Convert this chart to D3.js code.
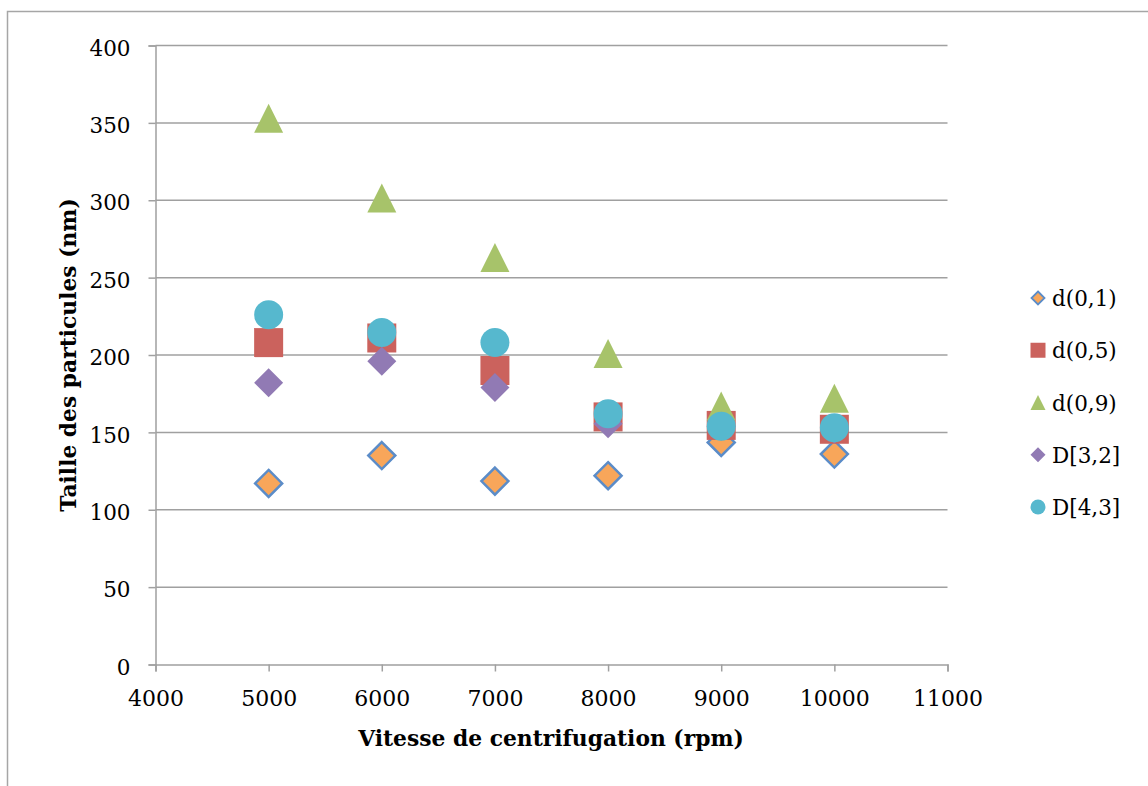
<!DOCTYPE html>
<html><head><meta charset="utf-8">
<script src="https://cdn.jsdelivr.net/npm/d3@7"></script>
<style>body{margin:0;background:#fff}</style>
</head><body>
<svg id="c" width="1148" height="786"></svg>
<script>
const speeds = [5000, 6000, 7000, 8000, 9000, 10000];
const d01 = [117, 135, 118.5, 122, 143.5, 136];
const d05 = [208, 211, 190, 160, 154.5, 152];
const d09 = [353, 301.5, 263, 201, 167, 172];
const D32 = [182, 196, 179, 155.5, 154, 152];
const D43 = [226, 214.5, 208, 162, 154, 153];
const xTicks = [4000, 5000, 6000, 7000, 8000, 9000, 10000, 11000];
const yTicks = [0, 50, 100, 150, 200, 250, 300, 350, 400];
const seriesNames = ["d(0,1)", "d(0,5)", "d(0,9)", "D[3,2]", "D[4,3]"];

const series = [
  {name: seriesNames[0], values: d01, shape: "diamond", fill: "#F8A65A", stroke: "#5B8CC8"},
  {name: seriesNames[1], values: d05, shape: "square", fill: "#CB625D", stroke: "none"},
  {name: seriesNames[2], values: d09, shape: "triangle", fill: "#A7C36A", stroke: "none"},
  {name: seriesNames[3], values: D32, shape: "diamond", fill: "#917AB4", stroke: "none"},
  {name: seriesNames[4], values: D43, shape: "circle", fill: "#56B8CE", stroke: "none"}
];

const svg = d3.select("#c");
const font = "'DejaVu Serif', serif";

// outer frame
svg.append("rect").attr("x", 7.5).attr("y", 11.5).attr("width", 1200).attr("height", 900)
  .attr("fill", "none").attr("stroke", "#A6A6A6").attr("stroke-width", 1.5);

const x = d3.scaleLinear().domain([4000, 11000]).range([155.5, 947.5]);
const y = d3.scaleLinear().domain([0, 400]).range([664.5, 45.5]);

// gridlines
svg.append("g").selectAll("line").data(yTicks.filter(v => v > 0)).join("line")
  .attr("x1", x(4000)).attr("x2", x(11000))
  .attr("y1", d => y(d)).attr("y2", d => y(d))
  .attr("stroke", "#A0A0A0").attr("stroke-width", 1.5);

// y axis
const ya = svg.append("g").attr("transform", `translate(${x(4000)},0)`)
  .call(d3.axisLeft(y).tickValues(yTicks).tickSize(7).tickPadding(18).tickFormat(d3.format("d")));
ya.select(".domain").attr("stroke", "#A0A0A0").attr("stroke-width", 1.5);
ya.selectAll(".tick line").attr("stroke", "#A0A0A0").attr("stroke-width", 1.5);
ya.selectAll("text").attr("font-family", font).attr("font-size", 21.5).attr("fill", "#000").attr("dy", "0.45em");

// x axis
const xa = svg.append("g").attr("transform", `translate(0,${y(0)})`)
  .call(d3.axisBottom(x).tickValues(xTicks).tickSize(7).tickPadding(19).tickFormat(d3.format("d")));
xa.select(".domain").attr("stroke", "#A0A0A0").attr("stroke-width", 1.5);
xa.selectAll(".tick line").attr("stroke", "#A0A0A0").attr("stroke-width", 1.5);
xa.selectAll("text").attr("font-family", font).attr("font-size", 22).attr("fill", "#000");

// axis titles
svg.append("text").attr("x", 551).attr("y", 746).attr("text-anchor", "middle")
  .attr("font-family", font).attr("font-weight", "bold").attr("font-size", 21.8)
  .text("Vitesse de centrifugation (rpm)");
svg.append("text").attr("transform", "translate(76,355) rotate(-90)").attr("text-anchor", "middle")
  .attr("font-family", font).attr("font-weight", "bold").attr("font-size", 21.8)
  .text("Taille des particules (nm)");

function shapePath(shape, s) {
  const h = s / 2;
  if (shape === "diamond") return `M0,${-h}L${h},0L0,${h}L${-h},0Z`;
  if (shape === "square") return `M${-h},${-h}H${h}V${h}H${-h}Z`;
  if (shape === "triangle") return `M0,${-h}L${h},${h}L${-h},${h}Z`;
  return d3.symbol(d3.symbolCircle, Math.PI * h * h)();
}

// markers
series.forEach(s => {
  svg.append("g").selectAll("path").data(s.values.map((v, i) => [speeds[i], v])).join("path")
    .attr("transform", d => `translate(${x(d[0])},${y(d[1])})`)
    .attr("d", shapePath(s.shape, s.shape === "diamond" && s.stroke !== "none" ? 27 : 29))
    .attr("fill", s.fill)
    .attr("stroke", s.stroke).attr("stroke-width", s.stroke === "none" ? 0 : 2.5)
    .attr("stroke-linejoin", "miter");
});

// legend
const lg = svg.append("g");
const legY = d3.scalePoint().domain(seriesNames).range([298, 507]);
series.forEach(s => {
  const g = lg.append("g").attr("transform", `translate(1038,${legY(s.name)})`);
  g.append("path").attr("d", shapePath(s.shape, s.shape === "diamond" && s.stroke !== "none" ? 13 : 15))
    .attr("fill", s.fill).attr("stroke", s.stroke).attr("stroke-width", s.stroke === "none" ? 0 : 1.8);
  g.append("text").attr("x", 14).attr("y", 8).attr("font-family", font).attr("font-size", 21.5)
    .text(s.name);
});
</script>
</body></html>
